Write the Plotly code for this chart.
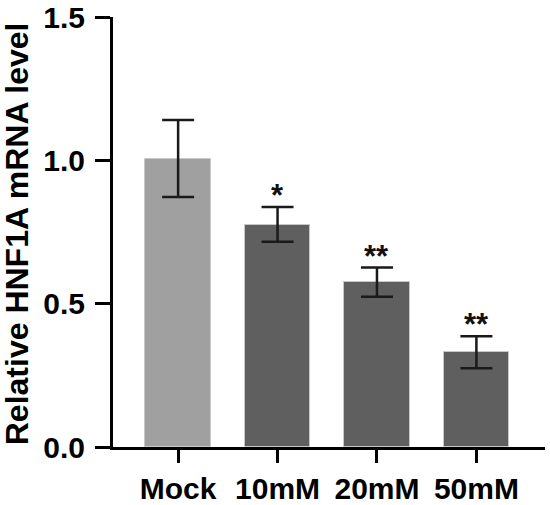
import plotly.graph_objects as go

categories = ["Mock", "10mM", "20mM", "50mM"]
values = [1.003, 0.774, 0.575, 0.330]
err_plus = [0.138, 0.063, 0.051, 0.056]
err_minus = [0.131, 0.058, 0.051, 0.055]
significance = ["", "*", "**", "**"]
bar_colors = ["#a0a0a0", "#5f5f5f", "#5f5f5f", "#5f5f5f"]

FONT = "Liberation Sans, Arial, sans-serif"

fig = go.Figure()
fig.add_trace(go.Bar(
    x=list(range(len(categories))),
    y=values,
    width=0.66,
    marker=dict(color=bar_colors, line=dict(color="#c8c8c8", width=1)),
    error_y=dict(type="data", symmetric=False, array=err_plus, arrayminus=err_minus,
                 color="#1a1a1a", thickness=2.5, width=16),
    showlegend=False,
))

for i, s in enumerate(significance):
    if s:
        fig.add_annotation(x=i, y=values[i] + err_plus[i], text="<b>" + s + "</b>",
                           showarrow=False, xanchor="center", yanchor="bottom",
                           yshift=-8, font=dict(family=FONT, size=31, color="#111111"))

fig.add_annotation(xref="paper", yref="paper", x=-0.222, y=0.495,
                   text="<b>Relative HNF1A mRNA level</b>", textangle=-90,
                   showarrow=False, xanchor="center", yanchor="middle",
                   font=dict(family=FONT, size=32, color="#000000"))

fig.update_layout(
    width=550, height=505,
    margin=dict(l=113, r=5, t=17, b=58),
    paper_bgcolor="white", plot_bgcolor="white",
    font=dict(family=FONT, color="#000000"),
    bargap=0,
)
fig.update_xaxes(
    range=[-0.655, 3.69],
    tickmode="array", tickvals=list(range(len(categories))),
    ticktext=["<b>" + c + "</b>" for c in categories],
    tickfont=dict(family=FONT, size=30, color="#000000"),
    showline=True, linecolor="#000000", linewidth=3,
    ticks="outside", ticklen=13, tickwidth=3, tickcolor="#000000",
    showgrid=False, zeroline=False, automargin=False,
)
fig.update_yaxes(
    range=[0, 1.5],
    tickmode="array", tickvals=[0, 0.5, 1.0, 1.5],
    ticktext=["<b>0.0</b>", "<b>0.5</b>", "<b>1.0</b>", "<b>1.5</b>"],
    tickfont=dict(family=FONT, size=30, color="#000000"),
    showline=True, linecolor="#000000", linewidth=3,
    ticks="outside", ticklen=15, tickwidth=3, tickcolor="#000000",
    ticklabelstandoff=4,
    showgrid=False, zeroline=False, automargin=False,
)

fig.write_html("out.html")
